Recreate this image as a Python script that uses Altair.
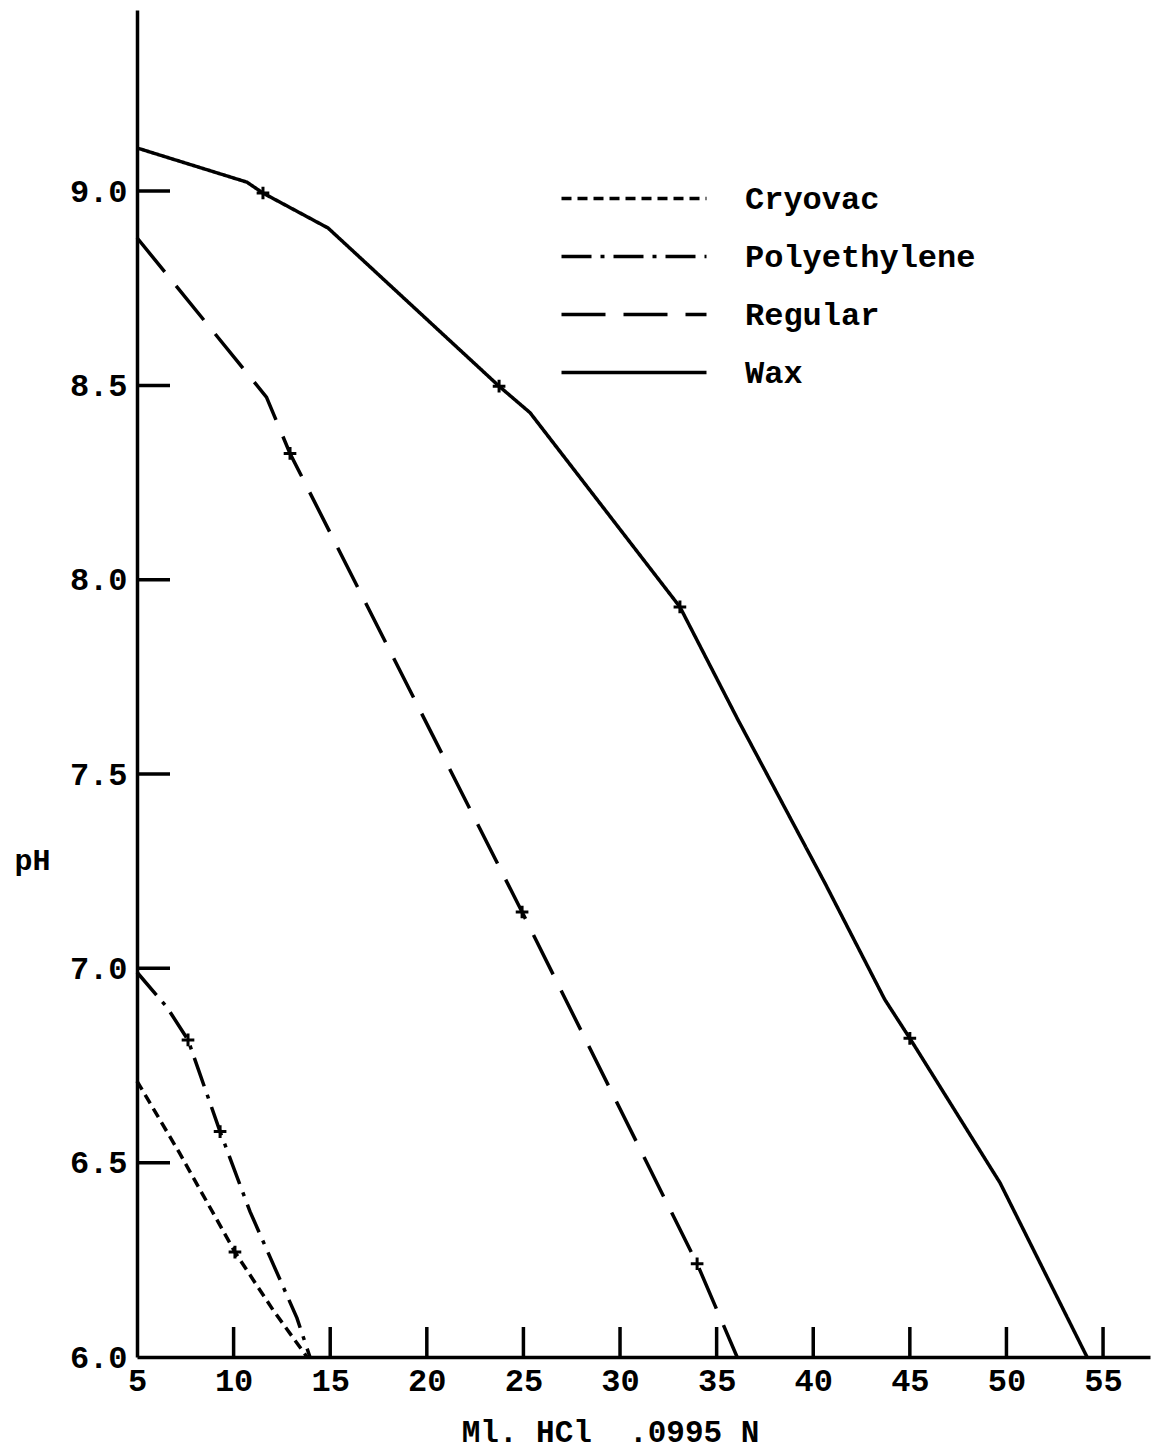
import altair as alt
import pandas as pd

# ---- data ----
series_names = ["Cryovac", "Polyethylene", "Regular", "Wax"]

cryovac_x = [5.0, 7.2, 10.07, 12.04, 13.8]
cryovac_y = [6.71, 6.525, 6.27, 6.121, 6.0]

poly_x = [5.0, 6.55, 7.64, 9.3, 10.85, 13.28, 13.95]
poly_y = [6.99, 6.90, 6.816, 6.58, 6.374, 6.10, 6.0]

regular_x = [5.0, 11.7, 12.92, 24.93, 33.99, 36.06]
regular_y = [8.88, 8.47, 8.325, 7.145, 6.24, 6.0]

wax_x = [5.0, 10.69, 11.52, 14.89, 23.74, 25.34, 33.1, 36.1, 40.6, 43.7, 45.0, 49.67, 54.17]
wax_y = [9.111, 9.023, 8.995, 8.905, 8.498, 8.43, 7.93, 7.64, 7.22, 6.92, 6.82, 6.448, 6.0]

# plotted (+) points
cryovac_mx = [10.07]
cryovac_my = [6.27]
poly_mx = [7.64, 9.3]
poly_my = [6.816, 6.58]
regular_mx = [12.92, 24.93, 33.99]
regular_my = [8.325, 7.145, 6.24]
wax_mx = [11.52, 23.74, 33.1, 45.0]
wax_my = [8.995, 8.498, 7.93, 6.82]

x_ticks = [5, 10, 15, 20, 25, 30, 35, 40, 45, 50, 55]
y_ticks = [6.0, 6.5, 7.0, 7.5, 8.0, 8.5, 9.0]

x_title = "Ml. HCl \u00a0.0995 N"
y_title = "pH"

# ---- tables ----
lines = pd.concat([
    pd.DataFrame({"ml": cryovac_x, "ph": cryovac_y, "series": "Cryovac"}),
    pd.DataFrame({"ml": poly_x, "ph": poly_y, "series": "Polyethylene"}),
    pd.DataFrame({"ml": regular_x, "ph": regular_y, "series": "Regular"}),
    pd.DataFrame({"ml": wax_x, "ph": wax_y, "series": "Wax"}),
], ignore_index=True)
lines["order"] = range(len(lines))

marks = pd.concat([
    pd.DataFrame({"ml": cryovac_mx, "ph": cryovac_my}),
    pd.DataFrame({"ml": poly_mx, "ph": poly_my}),
    pd.DataFrame({"ml": regular_mx, "ph": regular_my}),
    pd.DataFrame({"ml": wax_mx, "ph": wax_my}),
], ignore_index=True)

xt = pd.DataFrame({"v": x_ticks[1:]})
yt = pd.DataFrame({"v": y_ticks[1:]})

W, H = 1013, 1347
FONT = "Liberation Mono"

xscale = alt.Scale(domain=[5, 57.43], nice=False, zero=False)
yscale = alt.Scale(domain=[6.0, 9.466], nice=False, zero=False)

xaxis = alt.Axis(values=x_ticks, format="d", title=x_title, ticks=False, tickSize=0,
                 grid=False, domainColor="black", domainWidth=3.5,
                 labelFont=FONT, labelFontSize=32, labelFontWeight="bold", labelColor="black",
                 labelPadding=8, labelFlush=False,
                 titleFont=FONT, titleFontSize=31, titleFontWeight="bold", titleColor="black",
                 titleX=473, titleY=75, titleAnchor="start", titleAlign="center",
                 titleBaseline="middle")
yaxis = alt.Axis(values=y_ticks, format=".1f", title=y_title, ticks=False, tickSize=0,
                 grid=False, domainColor="black", domainWidth=3.5,
                 labelFont=FONT, labelFontSize=32, labelFontWeight="bold", labelColor="black",
                 labelPadding=10,
                 titleFont=FONT, titleFontSize=30, titleFontWeight="bold", titleColor="black",
                 titleAngle=0, titleX=-105, titleY=860 - 10, titleAlign="center",
                 titleBaseline="middle", titleAnchor="start")

dash_scale = alt.Scale(domain=series_names,
                       range=[[10, 6], [30, 9, 4, 9], [44, 18], [1, 0]])

legend = alt.Legend(orient="none", legendX=408, legendY=172, title=None,
                    symbolType="M0,0H10", symbolSize=841, symbolStrokeWidth=3.5,
                    symbolStrokeColor="black", symbolFillColor="transparent",
                    labelFont=FONT, labelFontSize=32, labelFontWeight="bold",
                    labelColor="black", labelOffset=167, labelLimit=0, rowPadding=25)

line_layer = alt.Chart(lines).mark_line(color="black", strokeWidth=3.5).encode(
    x=alt.X("ml:Q", scale=xscale, axis=xaxis),
    y=alt.Y("ph:Q", scale=yscale, axis=yaxis),
    strokeDash=alt.StrokeDash("series:N", scale=dash_scale, legend=legend),
    detail="series:N",
    order="order:Q",
)

point_layer = alt.Chart(marks).mark_point(
    shape="M-1,0H1M0,-1V1", size=160, filled=False, color="black", strokeWidth=3, opacity=1
).encode(x=alt.X("ml:Q", scale=xscale), y=alt.Y("ph:Q", scale=yscale))

xtick_layer = alt.Chart(xt).mark_rule(color="black", strokeWidth=3.5).encode(
    x=alt.X("v:Q", scale=xscale), y=alt.value(H), y2=alt.value(H - 30))

ytick_layer = alt.Chart(yt).mark_rule(color="black", strokeWidth=3.5).encode(
    y=alt.Y("v:Q", scale=yscale), x=alt.value(0), x2=alt.value(33))

chart = alt.layer(line_layer, point_layer, xtick_layer, ytick_layer).properties(
    width=W, height=H,
    padding={"left": 137, "top": 10, "right": 3, "bottom": 96},
    autosize=alt.AutoSizeParams(type="none"),
    background="white",
).configure_view(stroke=None)

chart.save("out.html", embed_options={"renderer": "svg", "actions": False})
